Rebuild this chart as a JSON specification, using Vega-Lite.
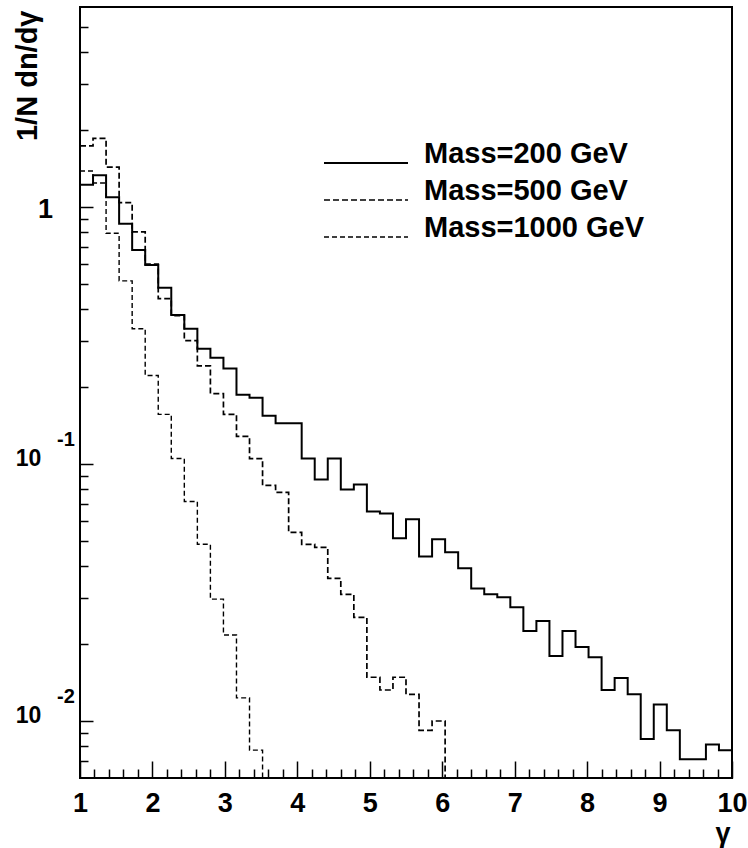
{
  "$schema": "https://vega.github.io/schema/vega-lite/v6.json",
  "width": 652,
  "height": 771,
  "autosize": {"type": "none"},
  "padding": {"left": 80, "top": 7, "right": 16, "bottom": 70},
  "background": "white",
  "config": {"view": {"stroke": "black", "strokeWidth": 2}, "font": "Liberation Sans"},
  "layer": [
    {
      "data": {"values": [
        {"s": "Mass=200 GeV", "x": 1.00, "v": 1.22},
        {"s": "Mass=200 GeV", "x": 1.18, "v": 1.33},
        {"s": "Mass=200 GeV", "x": 1.36, "v": 1.09},
        {"s": "Mass=200 GeV", "x": 1.54, "v": 0.86},
        {"s": "Mass=200 GeV", "x": 1.72, "v": 0.68},
        {"s": "Mass=200 GeV", "x": 1.90, "v": 0.595},
        {"s": "Mass=200 GeV", "x": 2.08, "v": 0.485},
        {"s": "Mass=200 GeV", "x": 2.26, "v": 0.38},
        {"s": "Mass=200 GeV", "x": 2.44, "v": 0.336},
        {"s": "Mass=200 GeV", "x": 2.62, "v": 0.281},
        {"s": "Mass=200 GeV", "x": 2.80, "v": 0.259},
        {"s": "Mass=200 GeV", "x": 2.98, "v": 0.235},
        {"s": "Mass=200 GeV", "x": 3.16, "v": 0.186},
        {"s": "Mass=200 GeV", "x": 3.34, "v": 0.181},
        {"s": "Mass=200 GeV", "x": 3.52, "v": 0.154},
        {"s": "Mass=200 GeV", "x": 3.70, "v": 0.144},
        {"s": "Mass=200 GeV", "x": 3.88, "v": 0.144},
        {"s": "Mass=200 GeV", "x": 4.06, "v": 0.105},
        {"s": "Mass=200 GeV", "x": 4.24, "v": 0.087},
        {"s": "Mass=200 GeV", "x": 4.42, "v": 0.105},
        {"s": "Mass=200 GeV", "x": 4.60, "v": 0.0796},
        {"s": "Mass=200 GeV", "x": 4.78, "v": 0.0833},
        {"s": "Mass=200 GeV", "x": 4.96, "v": 0.0654},
        {"s": "Mass=200 GeV", "x": 5.14, "v": 0.0642},
        {"s": "Mass=200 GeV", "x": 5.32, "v": 0.0514},
        {"s": "Mass=200 GeV", "x": 5.50, "v": 0.0609},
        {"s": "Mass=200 GeV", "x": 5.68, "v": 0.0437},
        {"s": "Mass=200 GeV", "x": 5.86, "v": 0.0509},
        {"s": "Mass=200 GeV", "x": 6.04, "v": 0.0453},
        {"s": "Mass=200 GeV", "x": 6.22, "v": 0.0393},
        {"s": "Mass=200 GeV", "x": 6.40, "v": 0.0328},
        {"s": "Mass=200 GeV", "x": 6.58, "v": 0.0311},
        {"s": "Mass=200 GeV", "x": 6.76, "v": 0.0303},
        {"s": "Mass=200 GeV", "x": 6.94, "v": 0.0277},
        {"s": "Mass=200 GeV", "x": 7.12, "v": 0.0224},
        {"s": "Mass=200 GeV", "x": 7.30, "v": 0.0245},
        {"s": "Mass=200 GeV", "x": 7.48, "v": 0.0179},
        {"s": "Mass=200 GeV", "x": 7.66, "v": 0.0224},
        {"s": "Mass=200 GeV", "x": 7.84, "v": 0.0194},
        {"s": "Mass=200 GeV", "x": 8.02, "v": 0.0177},
        {"s": "Mass=200 GeV", "x": 8.20, "v": 0.0132},
        {"s": "Mass=200 GeV", "x": 8.38, "v": 0.0147},
        {"s": "Mass=200 GeV", "x": 8.56, "v": 0.0127},
        {"s": "Mass=200 GeV", "x": 8.74, "v": 0.0085},
        {"s": "Mass=200 GeV", "x": 8.92, "v": 0.0116},
        {"s": "Mass=200 GeV", "x": 9.10, "v": 0.0092},
        {"s": "Mass=200 GeV", "x": 9.28, "v": 0.0071},
        {"s": "Mass=200 GeV", "x": 9.46, "v": 0.0071},
        {"s": "Mass=200 GeV", "x": 9.64, "v": 0.0081},
        {"s": "Mass=200 GeV", "x": 9.82, "v": 0.0077},
        {"s": "Mass=200 GeV", "x": 10.00, "v": 0.0077},
        {"s": "Mass=500 GeV", "x": 1.00, "v": 1.73},
        {"s": "Mass=500 GeV", "x": 1.18, "v": 1.85},
        {"s": "Mass=500 GeV", "x": 1.36, "v": 1.43},
        {"s": "Mass=500 GeV", "x": 1.54, "v": 1.04},
        {"s": "Mass=500 GeV", "x": 1.72, "v": 0.80},
        {"s": "Mass=500 GeV", "x": 1.90, "v": 0.60},
        {"s": "Mass=500 GeV", "x": 2.08, "v": 0.44},
        {"s": "Mass=500 GeV", "x": 2.26, "v": 0.378},
        {"s": "Mass=500 GeV", "x": 2.44, "v": 0.302},
        {"s": "Mass=500 GeV", "x": 2.62, "v": 0.241},
        {"s": "Mass=500 GeV", "x": 2.80, "v": 0.188},
        {"s": "Mass=500 GeV", "x": 2.98, "v": 0.156},
        {"s": "Mass=500 GeV", "x": 3.16, "v": 0.128},
        {"s": "Mass=500 GeV", "x": 3.34, "v": 0.105},
        {"s": "Mass=500 GeV", "x": 3.52, "v": 0.0825},
        {"s": "Mass=500 GeV", "x": 3.70, "v": 0.0775},
        {"s": "Mass=500 GeV", "x": 3.88, "v": 0.0542},
        {"s": "Mass=500 GeV", "x": 4.06, "v": 0.0487},
        {"s": "Mass=500 GeV", "x": 4.24, "v": 0.0474},
        {"s": "Mass=500 GeV", "x": 4.42, "v": 0.0359},
        {"s": "Mass=500 GeV", "x": 4.60, "v": 0.0311},
        {"s": "Mass=500 GeV", "x": 4.78, "v": 0.0253},
        {"s": "Mass=500 GeV", "x": 4.96, "v": 0.0148},
        {"s": "Mass=500 GeV", "x": 5.14, "v": 0.0132},
        {"s": "Mass=500 GeV", "x": 5.32, "v": 0.0148},
        {"s": "Mass=500 GeV", "x": 5.50, "v": 0.0127},
        {"s": "Mass=500 GeV", "x": 5.68, "v": 0.0092},
        {"s": "Mass=500 GeV", "x": 5.86, "v": 0.0100},
        {"s": "Mass=500 GeV", "x": 6.04, "v": 0.001},
        {"s": "Mass=1000 GeV", "x": 1.00, "v": 1.38},
        {"s": "Mass=1000 GeV", "x": 1.18, "v": 1.24},
        {"s": "Mass=1000 GeV", "x": 1.36, "v": 0.79},
        {"s": "Mass=1000 GeV", "x": 1.54, "v": 0.516},
        {"s": "Mass=1000 GeV", "x": 1.72, "v": 0.336},
        {"s": "Mass=1000 GeV", "x": 1.90, "v": 0.221},
        {"s": "Mass=1000 GeV", "x": 2.08, "v": 0.156},
        {"s": "Mass=1000 GeV", "x": 2.26, "v": 0.105},
        {"s": "Mass=1000 GeV", "x": 2.44, "v": 0.0715},
        {"s": "Mass=1000 GeV", "x": 2.62, "v": 0.0487},
        {"s": "Mass=1000 GeV", "x": 2.80, "v": 0.0298},
        {"s": "Mass=1000 GeV", "x": 2.98, "v": 0.0216},
        {"s": "Mass=1000 GeV", "x": 3.16, "v": 0.0123},
        {"s": "Mass=1000 GeV", "x": 3.34, "v": 0.0077},
        {"s": "Mass=1000 GeV", "x": 3.52, "v": 0.001}
      ]},
      "mark": {"type": "line", "interpolate": "step-after", "clip": true, "color": "black"},
      "encoding": {
        "x": {
          "field": "x", "type": "quantitative",
          "scale": {"domain": [1, 10], "nice": false, "zero": false},
          "axis": {
            "values": [1, 2, 3, 4, 5, 6, 7, 8, 9, 10],
            "ticks": false, "domain": false, "grid": false,
            "labelFont": "Liberation Sans", "labelFontWeight": "bold", "labelFontSize": 27,
            "labelColor": "black", "labelPadding": 12, "labelFlush": false, "labelOverlap": false,
            "labelBound": false, "labelAngle": 0, "format": "d",
            "title": "γ", "titleFont": "Liberation Sans", "titleFontWeight": "bold", "titleFontSize": 27,
            "titleColor": "black", "titleX": 650, "titleY": 55, "titleAlign": "right", "titleBaseline": "middle"
          }
        },
        "y": {
          "field": "v", "type": "quantitative",
          "scale": {"type": "log", "domain": [0.006, 6], "nice": false},
          "axis": {
            "values": [0.01, 0.1, 1],
            "ticks": false, "domain": false, "grid": false,
            "labelExpr": "datum.value == 1 ? '1' : '10'",
            "labelFont": "Liberation Sans", "labelFontWeight": "bold", "labelColor": "black",
            "labelFontSize": {"condition": {"test": "datum.value == 1", "value": 27}, "value": 23},
            "labelPadding": {"condition": {"test": "datum.value == 1", "value": 35}, "value": 52},
            "labelOffset": {"condition": {"test": "datum.value == 1", "value": 3}, "value": -5},
            "labelAlign": "center", "labelBaseline": "middle",
            "labelFlush": false, "labelOverlap": false, "labelBound": false,
            "title": "1/N dn/dγ", "titleFont": "Liberation Sans", "titleFontWeight": "bold", "titleFontSize": 29,
            "titleColor": "black", "titleX": -53, "titleY": 3, "titleAngle": -90,
            "titleAlign": "right", "titleBaseline": "middle"
          }
        },
        "strokeDash": {
          "field": "s", "type": "nominal",
          "scale": {"domain": ["Mass=200 GeV", "Mass=500 GeV", "Mass=1000 GeV"], "range": [[1, 0], [6, 3], [5, 3]]},
          "legend": {
            "orient": "none", "legendX": 243, "legendY": 144, "title": null,
            "symbolType": "stroke", "symbolSize": 7056, "symbolStrokeColor": "black", "symbolStrokeWidth": 1.5,
            "labelFont": "Liberation Sans", "labelFontWeight": "bold", "labelFontSize": 29, "labelColor": "black",
            "labelOffset": 15, "clipHeight": 24, "rowPadding": 2, "padding": 0,
            "labelBaseline": "alphabetic", "labelLimit": 400
          }
        },
        "strokeWidth": {
          "field": "s", "type": "nominal",
          "scale": {"domain": ["Mass=200 GeV", "Mass=500 GeV", "Mass=1000 GeV"], "range": [2, 1.4, 1.4]},
          "legend": null
        }
      }
    },
    {
      "data": {"values": [{"v": 0.1, "e": "-1"}, {"v": 0.01, "e": "-2"}]},
      "mark": {"type": "text", "dx": -14, "dy": -24, "align": "center", "baseline": "middle",
               "font": "Liberation Sans", "fontWeight": "bold", "fontSize": 20, "color": "black"},
      "encoding": {
        "x": {
          "datum": 1, "type": "quantitative",
          "axis": {
            "orient": "bottom",
            "values": [1, 1.2, 1.4, 1.6, 1.8, 2, 2.2, 2.4, 2.6, 2.8, 3, 3.2, 3.4, 3.6, 3.8, 4, 4.2, 4.4, 4.6, 4.8, 5, 5.2, 5.4, 5.6, 5.8, 6, 6.2, 6.4, 6.6, 6.8, 7, 7.2, 7.4, 7.6, 7.8, 8, 8.2, 8.4, 8.6, 8.8, 9, 9.2, 9.4, 9.6, 9.8, 10],
            "labels": false, "domain": false, "grid": false, "title": null,
            "tickColor": "black", "tickWidth": 1.5,
            "tickSize": {"condition": {"test": "abs(datum.value - round(datum.value)) < 0.01", "value": -17}, "value": -9}
          }
        },
        "y": {
          "field": "v", "type": "quantitative",
          "axis": {
            "orient": "left",
            "values": [0.007, 0.008, 0.009, 0.01, 0.02, 0.03, 0.04, 0.05, 0.06, 0.07, 0.08, 0.09, 0.1, 0.2, 0.3, 0.4, 0.5, 0.6, 0.7, 0.8, 0.9, 1, 2, 3, 4, 5],
            "labels": false, "domain": false, "grid": false, "title": null,
            "tickColor": "black", "tickWidth": 1.5,
            "tickSize": {"condition": {"test": "datum.value == 1 || datum.value == 0.1 || datum.value == 0.01", "value": -13}, "value": -8}
          }
        },
        "text": {"field": "e"}
      }
    }
  ],
  "resolve": {"axis": {"x": "independent", "y": "independent"}}
}
